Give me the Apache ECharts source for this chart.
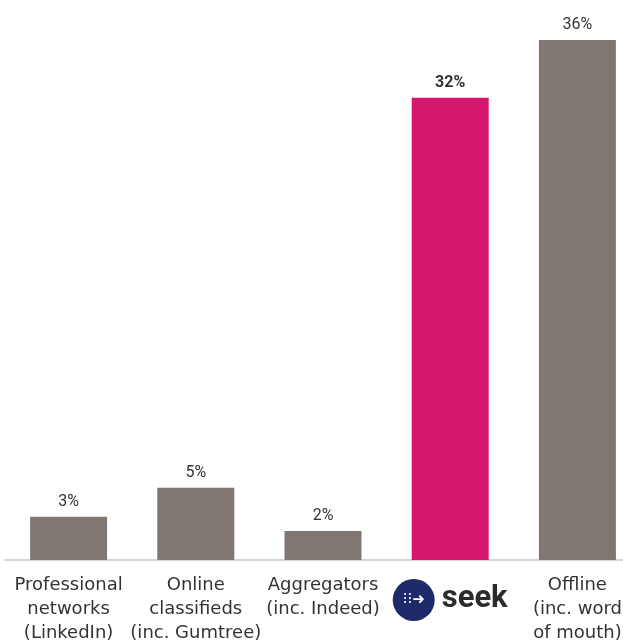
<!DOCTYPE html>
<html><head><meta charset="utf-8">
<script src="https://cdn.jsdelivr.net/npm/echarts@6/dist/echarts.min.js"></script>
<style>html,body{margin:0;padding:0;background:#fff}#c{width:623px;height:644px}</style>
</head><body><div id="c"></div>
<script>
const categories = ['Professional\nnetworks\n(LinkedIn)', 'Online\nclassifieds\n(inc. Gumtree)', 'Aggregators\n(inc. Indeed)', 'SEEK', 'Offline\n(inc. word\nof mouth)'];
const values = [3, 5, 2, 32, 36];
const highlightIndex = 3;

const chart = echarts.init(document.getElementById('c'));
chart.setOption({
  animation: false,
  grid: { left: 5, width: 636, top: 40, height: 520, outerBoundsMode: 'none', containLabel: false },
  xAxis: {
    type: 'category', data: categories,
    axisLine: { lineStyle: { color: '#c8c8c8', width: 1.5 } },
    axisTick: { show: false },
    axisLabel: {
      interval: 0, margin: 13, color: '#333', fontSize: 18, lineHeight: 24,
      fontFamily: 'DejaVu Sans',
      formatter: function (v) { return v === 'SEEK' ? '{logo|⁝⁝➜}{seek|seek}' : v; },
      rich: {
        logo: { backgroundColor: '#1e2a6a', borderRadius: 21, width: 42, height: 42, align: 'center', verticalAlign: 'bottom', color: '#fff', fontSize: 15, lineHeight: 42 },
        seek: { fontSize: 31, fontWeight: 'bold', color: '#2b2b2b', fontFamily: 'Roboto', lineHeight: 48, verticalAlign: 'bottom', padding: [0, 0, 6, 7] }
      }
    }
  },
  yAxis: { type: 'value', min: 0, max: 36, show: false, splitLine: { show: false } },
  series: [{
    type: 'bar', barWidth: 77,
    data: values.map((v, i) => ({
      value: v,
      itemStyle: { color: i === highlightIndex ? '#d6176f' : '#807773' },
      label: i === highlightIndex ? { fontWeight: 'bold' } : {}
    })),
    label: { show: true, position: 'top', distance: 7, formatter: '{c}%', color: '#333', fontSize: 16, fontFamily: 'Roboto, Liberation Sans' }
  }]
});
</script></body></html>
